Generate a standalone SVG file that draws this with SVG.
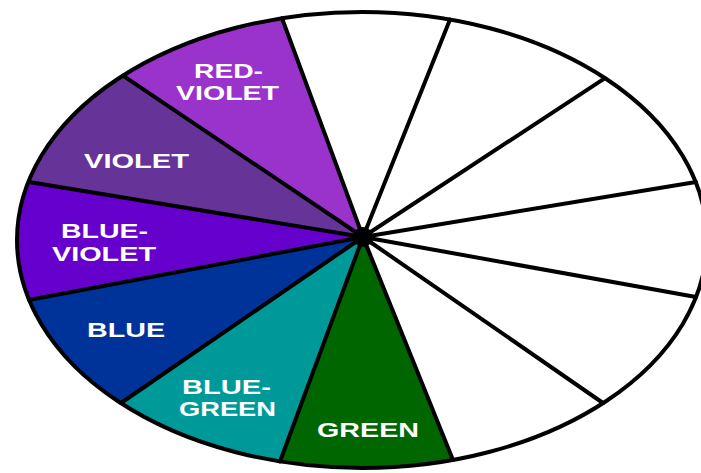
<svg xmlns="http://www.w3.org/2000/svg" width="701" height="473" viewBox="0 0 701 473">
  <style>
    .w { stroke: none; }
    .lbl { font-family: "Liberation Sans", Arial, sans-serif; font-weight: bold; font-size: 21px; fill: #ffffff; }
    .spoke { stroke: #000; stroke-width: 4; stroke-linecap: round; fill: none; }
    .rim { stroke: #000; stroke-width: 4; fill: none; }
  </style>
  <rect width="701" height="473" fill="#ffffff"/>
  <ellipse cx="362" cy="240" rx="345" ry="228" fill="#ffffff"/>

  <g id="red-violet">
    <path class="w" fill="#9933CC" d="M363 237 L282 18.2 A345 228 0 0 0 123 75.6 Z"/>
    <text class="lbl" x="194" y="78" textLength="69" lengthAdjust="spacingAndGlyphs">RED-</text>
    <text class="lbl" x="176" y="100" textLength="103" lengthAdjust="spacingAndGlyphs">VIOLET</text>
  </g>
  <g id="violet">
    <path class="w" fill="#663399" d="M363 237 L123 75.6 A345 228 0 0 0 29 182 Z"/>
    <text class="lbl" x="84" y="168" textLength="105" lengthAdjust="spacingAndGlyphs">VIOLET</text>
  </g>
  <g id="blue-violet">
    <path class="w" fill="#6600CC" d="M363 237 L29 182 A345 228 0 0 0 29 300 Z"/>
    <text class="lbl" x="61" y="238" textLength="87" lengthAdjust="spacingAndGlyphs">BLUE-</text>
    <text class="lbl" x="52" y="261" textLength="104" lengthAdjust="spacingAndGlyphs">VIOLET</text>
  </g>
  <g id="blue">
    <path class="w" fill="#003399" d="M363 237 L29 300 A345 228 0 0 0 121 403 Z"/>
    <text class="lbl" x="87" y="337" textLength="78" lengthAdjust="spacingAndGlyphs">BLUE</text>
  </g>
  <g id="blue-green">
    <path class="w" fill="#009999" d="M363 237 L121 403 A345 228 0 0 0 280 461.5 Z"/>
    <text class="lbl" x="182" y="394" textLength="89" lengthAdjust="spacingAndGlyphs">BLUE-</text>
    <text class="lbl" x="179" y="416" textLength="97" lengthAdjust="spacingAndGlyphs">GREEN</text>
  </g>
  <g id="green">
    <path class="w" fill="#006600" d="M363 237 L280 461.5 A345 228 0 0 0 453 460 Z"/>
    <text class="lbl" x="317" y="437" textLength="102" lengthAdjust="spacingAndGlyphs">GREEN</text>
  </g>

  <g id="connectors">
    <line class="spoke" x1="363" y1="237" x2="282" y2="18.2"/>
    <line class="spoke" x1="363" y1="237" x2="450" y2="19.6"/>
    <line class="spoke" x1="363" y1="237" x2="605" y2="78.1"/>
    <line class="spoke" x1="363" y1="237" x2="696" y2="182"/>
    <line class="spoke" x1="363" y1="237" x2="696" y2="297"/>
    <line class="spoke" x1="363" y1="237" x2="603" y2="403"/>
    <line class="spoke" x1="363" y1="237" x2="453" y2="460"/>
    <line class="spoke" x1="363" y1="237" x2="280" y2="461.5"/>
    <line class="spoke" x1="363" y1="237" x2="121" y2="403"/>
    <line class="spoke" x1="363" y1="237" x2="29" y2="300"/>
    <line class="spoke" x1="363" y1="237" x2="29" y2="182"/>
    <line class="spoke" x1="363" y1="237" x2="123" y2="75.6"/>
    <circle cx="363" cy="237" r="10" fill="#000"/>
  </g>
  <ellipse id="rim" class="rim" cx="362" cy="240" rx="345" ry="228"/>
</svg>
